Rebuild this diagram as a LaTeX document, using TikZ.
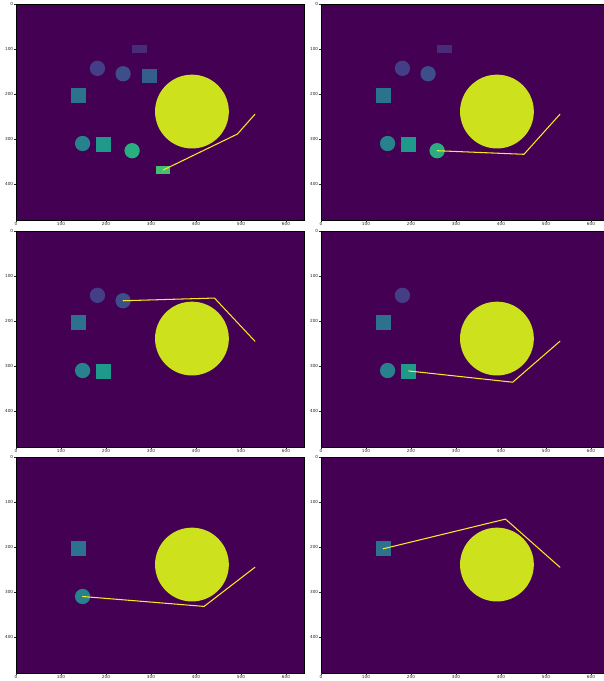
\documentclass[tikz,border=0pt]{standalone}
\usepackage{fontspec}
\setmainfont{DejaVu Sans}

\definecolor{vbg}{HTML}{440154}
\definecolor{vrect}{HTML}{472C7A}
\definecolor{vcircb}{HTML}{433E85}
\definecolor{vcircc}{HTML}{3C4F8A}
\definecolor{vsqd}{HTML}{345F8D}
\definecolor{vsqe}{HTML}{2C718E}
\definecolor{vcircf}{HTML}{27828E}
\definecolor{vsqg}{HTML}{1F998A}
\definecolor{vcirch}{HTML}{28AE80}
\definecolor{vrecti}{HTML}{44BF70}
\definecolor{vdisc}{HTML}{CDE11D}
\definecolor{vline}{HTML}{FDE725}

\tikzset{
  panel/.style={fill=vbg, draw=black, line width=0.35pt},
  axistick/.style={draw=black!85, line width=0.3pt},
  ticknum/.style={font=\fontsize{4.2}{5}\selectfont, text=black!85, inner sep=0.4pt},
  beam/.style={draw=vline, line width=1.05pt, line cap=round},
  data/.style={x=0.45pt, y=-0.45pt}
}

% axes of one image (640 x 480 pixels)
\newcommand\drawaxes{%
  \draw[panel] (0,0) rectangle (640,480);
  \foreach \t in {0,100,...,600} {
    \draw[axistick] (\t,480) -- ++(0,3.5);
    \node (xt\t) [ticknum, anchor=north] at (\t,485) {\t};
  }
  \foreach \t in {0,100,...,400} {
    \draw[axistick] (0,\t) -- ++(-3.5,0);
    \node (yt\t) [ticknum, anchor=east] at (-5,\t) {\t};
  }
}

% the objects
\newcommand\rectA{\fill[vrect] (258,92) rectangle (290,108);}
\newcommand\circB{\fill[vcircb] (181,143) circle (17);}
\newcommand\circC{\fill[vcircc] (238,155) circle (17);}
\newcommand\sqD{\fill[vsqd] (281,144) rectangle (313,176);}
\newcommand\sqE{\fill[vsqe] (122,187) rectangle (155,220);}
\newcommand\circF{\fill[vcircf] (148,310) circle (17);}
\newcommand\sqG{\fill[vsqg] (178,295) rectangle (211,328);}
\newcommand\circH{\fill[vcirch] (258,326) circle (17);}
\newcommand\rectI{\fill[vrecti] (311,361) rectangle (343,377);}
\newcommand\bigdisc{\fill[vdisc] (391,239) circle (82);}

\begin{document}
\begin{tikzpicture}[x=1pt, y=-1pt]
\useasboundingbox[fill=white] (0,0) rectangle (604,681);
\clip (0,0) rectangle (604,681);

% top left
\begin{scope}[shift={(16,4)}, data]
  \drawaxes
  \rectA \circB \circC \sqD \sqE \circF \sqG \circH \rectI
  \bigdisc
  \coordinate (base) at (531,245);
  \coordinate (elbow) at (492,289);
  \coordinate (goal) at (327,369);
  \draw[beam] (base) -- (elbow) -- (goal);
\end{scope}

% top right
\begin{scope}[shift={(321,4)}, data]
  \drawaxes
  \rectA \circB \circC \sqE \circF \sqG \circH
  \bigdisc
  \coordinate (base) at (531,245);
  \coordinate (elbow) at (451,334);
  \coordinate (goal) at (258,326);
  \draw[beam] (base) -- (elbow) -- (goal);
\end{scope}

% middle left
\begin{scope}[shift={(16,231)}, data]
  \drawaxes
  \circB \circC \sqE \circF \sqG
  \bigdisc
  \coordinate (base) at (531,245);
  \coordinate (elbow) at (441,149);
  \coordinate (goal) at (238,155);
  \draw[beam] (base) -- (elbow) -- (goal);
\end{scope}

% middle right
\begin{scope}[shift={(321,231)}, data]
  \drawaxes
  \circB \sqE \circF \sqG
  \bigdisc
  \coordinate (base) at (531,245);
  \coordinate (elbow) at (426,336);
  \coordinate (goal) at (195,311);
  \draw[beam] (base) -- (elbow) -- (goal);
\end{scope}

% bottom left
\begin{scope}[shift={(16,457)}, data]
  \drawaxes
  \sqE \circF
  \bigdisc
  \coordinate (base) at (531,245);
  \coordinate (elbow) at (418,332);
  \coordinate (goal) at (148,310);
  \draw[beam] (base) -- (elbow) -- (goal);
\end{scope}

% bottom right
\begin{scope}[shift={(321,457)}, data]
  \drawaxes
  \sqE
  \bigdisc
  \coordinate (base) at (531,245);
  \coordinate (elbow) at (410,138);
  \coordinate (goal) at (138,204);
  \draw[beam] (base) -- (elbow) -- (goal);
\end{scope}
\end{tikzpicture}
\end{document}
